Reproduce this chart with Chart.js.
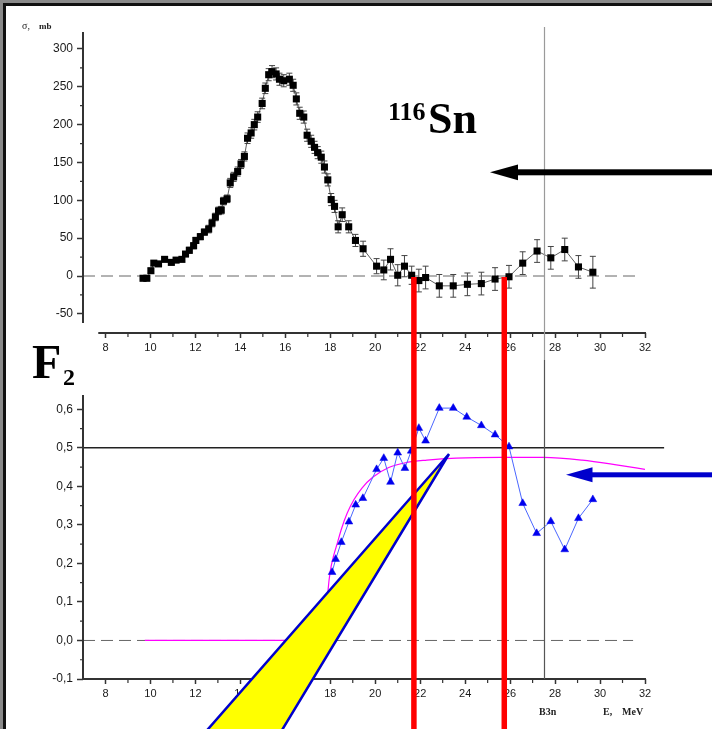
<!DOCTYPE html>
<html>
<head>
<meta charset="utf-8">
<script src="https://cdn.jsdelivr.net/npm/chart.js@4.4.1/dist/chart.umd.min.js"></script>
<style>
  html, body { margin: 0; padding: 0; background: #fff; }
  #page { position: relative; width: 712px; height: 729px; overflow: hidden; background: #fff; }
  #page canvas { position: absolute; left: 0; }
  .edge { position: absolute; }
</style>
</head>
<body>
<div id="page">
  <div class="edge" style="left:0;top:0;width:712px;height:3px;background:#8a8a8a"></div>
  <div class="edge" style="left:0;top:0;width:3px;height:729px;background:#8a8a8a"></div>
  <div class="edge" style="left:3px;top:3px;width:709px;height:3px;background:#111"></div>
  <div class="edge" style="left:3px;top:3px;width:3px;height:726px;background:#111"></div>
  <canvas id="sigma" width="712" height="360" style="top:0"></canvas>
  <canvas id="f2" width="712" height="369" style="top:360px"></canvas>
  <canvas id="marks" width="712" height="729" style="top:0"></canvas>
</div>
<script>
// (g,n) cross section for 116Sn, mb
const energy = [9.67, 9.84, 10.02, 10.15, 10.36, 10.63, 10.93, 11.14, 11.40, 11.56,
  11.73, 11.92, 12.02, 12.22, 12.40, 12.59, 12.74, 12.89, 13.03, 13.15,
  13.25, 13.41, 13.55, 13.70, 13.88, 14.03, 14.18, 14.32, 14.48, 14.62,
  14.77, 14.97, 15.11, 15.26, 15.41, 15.59, 15.74, 15.93, 16.18, 16.35,
  16.49, 16.64, 16.82, 16.97, 17.15, 17.30, 17.44, 17.60, 17.74, 17.89,
  18.04, 18.19, 18.35, 18.53, 18.82, 19.12, 19.46, 20.06, 20.38, 20.68,
  21.00, 21.30, 21.62, 21.94, 22.24, 22.85, 23.47, 24.10, 24.72, 25.33,
  25.95, 26.56, 27.20, 27.81, 28.43, 29.04, 29.68];
const sigma = [-3, -3, 7, 17, 16, 22, 18, 21, 22, 29,
  34, 40, 47, 52, 58, 62, 70, 78, 86, 87,
  99, 102, 123, 131, 138, 148, 158, 182, 189, 200,
  210, 228, 248, 266, 270, 267, 260, 258, 260, 252,
  234, 215, 210, 186, 178, 170, 163, 157, 144, 127,
  101, 92, 65, 81, 65, 47, 36, 13, 8, 22,
  1, 13, 1, -6, -2, -13, -13, -11, -10, -4,
  -1, 17, 33, 24, 35, 12, 5];
const sigmaErr = [3, 3, 3, 3, 3, 3, 3, 3, 3, 3,
  4, 4, 4, 4, 4, 5, 5, 5, 5, 5,
  5, 5, 6, 6, 6, 6, 6, 7, 7, 7,
  7, 7, 7, 8, 8, 8, 8, 8, 8, 8,
  8, 8, 8, 8, 8, 8, 8, 8, 8, 8,
  8, 8, 8, 9, 8, 8, 10, 10, 13, 14,
  14, 14, 12, 15, 15, 15, 15, 15, 15, 15,
  15, 15, 15, 15, 15, 15, 21];

// F2 ratio
const f2Energy = [18.08, 18.24, 18.49, 18.83, 19.13, 19.45, 20.06, 20.38, 20.68, 21.00,
  21.32, 21.60, 21.94, 22.24, 22.85, 23.47, 24.07, 24.72, 25.33, 25.95,
  26.56, 27.18, 27.81, 28.43, 29.04, 29.68];
const f2 = [0.177, 0.211, 0.255, 0.308, 0.352, 0.369, 0.444, 0.473, 0.411, 0.487,
  0.447, 0.492, 0.551, 0.518, 0.603, 0.603, 0.580, 0.558, 0.534, 0.503,
  0.356, 0.278, 0.309, 0.236, 0.317, 0.366];

// smooth curve through F2
const fitEnergy = [9.75, 17.75, 17.82, 17.9, 18.0, 18.15, 18.3, 18.5, 18.75, 19.05,
  19.4, 19.9, 20.6, 21.4, 22.3, 23.6, 25.6, 27.5, 29.2, 30.8, 32.0];
const fitF2 = [0, 0, 0.06, 0.13, 0.18, 0.22, 0.25, 0.29, 0.33, 0.365,
  0.395, 0.424, 0.449, 0.462, 0.468, 0.473, 0.475, 0.475, 0.468, 0.455, 0.444];

// axis ticks
const energyTicks = [8, 10, 12, 14, 16, 18, 20, 22, 24, 26, 28, 30, 32];
const energyMinor = [9, 11, 13, 15, 17, 19, 21, 23, 25, 27, 29, 31];
const sigmaTicks = [-50, 0, 50, 100, 150, 200, 250, 300];
const sigmaMinor = [-25, 25, 75, 125, 175, 225, 275];
const f2Ticks = [-0.1, 0, 0.1, 0.2, 0.3, 0.4, 0.5, 0.6];
const f2Minor = [-0.05, 0.05, 0.15, 0.25, 0.35, 0.45, 0.55];

// reference lines and thresholds
const sigmaZeroE = [7.0, 31.63];
const f2ZeroE = [7.0, 31.47];
const f2HalfE = [7.0, 32.85];
const f2Half = 0.5;
const b3n = 27.5;
const markE = [21.72, 25.74];

const font = 'Liberation Sans, Arial, sans-serif';

// Origin-style axis lines, minor ticks and error bars
function originAxes(cfg) {
  return {
    id: 'originAxes',
    beforeDatasetsDraw(chart) {
      if (!cfg.err) return;
      const { ctx, scales: { x, y } } = chart;
      ctx.save();
      ctx.strokeStyle = '#444';
      ctx.lineWidth = 1;
      ctx.beginPath();
      cfg.err.forEach((e, i) => {
        const px = x.getPixelForValue(cfg.ex[i]);
        const lo = y.getPixelForValue(cfg.ey[i] - e);
        const hi = y.getPixelForValue(cfg.ey[i] + e);
        ctx.moveTo(px, lo); ctx.lineTo(px, hi);
        ctx.moveTo(px - 3, lo); ctx.lineTo(px + 3, lo);
        ctx.moveTo(px - 3, hi); ctx.lineTo(px + 3, hi);
      });
      ctx.stroke();
      ctx.restore();
    },
    afterDraw(chart) {
      const { ctx, chartArea: a, scales: { x, y } } = chart;
      ctx.save();
      ctx.strokeStyle = '#333';
      ctx.lineWidth = 2;
      ctx.beginPath();
      ctx.moveTo(a.left, a.top);
      ctx.lineTo(a.left, y.getPixelForValue(cfg.yEnd));
      ctx.moveTo(x.getPixelForValue(cfg.xStart), a.bottom);
      ctx.lineTo(a.right + 1, a.bottom);
      ctx.stroke();
      ctx.lineWidth = 1.2;
      ctx.beginPath();
      cfg.yMinor.forEach(v => {
        const py = y.getPixelForValue(v);
        ctx.moveTo(a.left - 3, py); ctx.lineTo(a.left, py);
      });
      cfg.xMinor.forEach(v => {
        const px = x.getPixelForValue(v);
        ctx.moveTo(px, a.bottom); ctx.lineTo(px, a.bottom + 4);
      });
      ctx.stroke();
      ctx.restore();
    }
  };
}

function axes(xMin, xMax, yMin, yMax, xTicks, yTicks, xHeight, yFmt) {
  return {
    x: {
      type: 'linear', min: xMin, max: xMax,
      afterBuildTicks: s => { s.ticks = xTicks.map(v => ({ value: v })); },
      afterFit: s => { s.height = xHeight; },
      border: { display: false },
      grid: { drawOnChartArea: false, tickLength: 5, tickColor: '#333', tickWidth: 1.5 },
      ticks: { autoSkip: false, maxRotation: 0, padding: 3, color: '#1a1a1a', font: { family: font, size: 11 } }
    },
    y: {
      type: 'linear', min: yMin, max: yMax,
      afterBuildTicks: s => { s.ticks = yTicks.map(v => ({ value: v })); },
      afterFit: s => { s.width = 83; },
      border: { display: false },
      grid: { drawOnChartArea: false, tickLength: 6, tickColor: '#333', tickWidth: 1.5 },
      ticks: { autoSkip: false, padding: 4, color: '#1a1a1a', font: { family: font, size: 12 }, callback: yFmt }
    }
  };
}

const common = {
  responsive: false,
  animation: false,
  events: [],
  plugins: { legend: { display: false }, tooltip: { enabled: false } }
};

const sigmaChart = new Chart(document.getElementById('sigma'), {
  type: 'scatter',
  data: {
    datasets: [
      {
        data: energy.map((e, i) => ({ x: e, y: sigma[i] })),
        showLine: true, borderColor: '#333', borderWidth: 0.8,
        pointStyle: 'rect', pointRadius: 5,
        pointBackgroundColor: '#000', pointBorderColor: '#000', pointBorderWidth: 0
      },
      {
        data: sigmaZeroE.map(e => ({ x: e, y: 0 })),
        showLine: true, borderColor: '#666', borderWidth: 1, borderDash: [12, 6], pointRadius: 0
      }
    ]
  },
  options: {
    ...common,
    layout: { padding: { left: 0, top: 32, right: 67, bottom: 0 } },
    scales: axes(7.0, 32, -75.3, 322.4, energyTicks, sigmaTicks, 27, v => String(v))
  },
  plugins: [originAxes({ yEnd: -62, xStart: 7.68, yMinor: sigmaMinor, xMinor: energyMinor,
    err: sigmaErr, ex: energy, ey: sigma })]
});

const f2Chart = new Chart(document.getElementById('f2'), {
  type: 'scatter',
  data: {
    datasets: [
      {
        data: f2Energy.map((e, i) => ({ x: e, y: f2[i] })),
        showLine: true, borderColor: '#4a66ff', borderWidth: 1,
        pointStyle: 'triangle', pointRadius: 4.5,
        pointBackgroundColor: '#0000ee', pointBorderColor: '#0000ee', pointBorderWidth: 0.5
      },
      {
        data: fitEnergy.map((e, i) => ({ x: e, y: fitF2[i] })),
        showLine: true, borderColor: '#ff00ff', borderWidth: 1.2,
        cubicInterpolationMode: 'monotone', pointRadius: 0
      },
      {
        data: f2HalfE.map(e => ({ x: e, y: f2Half })),
        showLine: true, borderColor: '#222', borderWidth: 1.4, pointRadius: 0, clip: false
      },
      {
        data: f2ZeroE.map(e => ({ x: e, y: 0 })),
        showLine: true, borderColor: '#666', borderWidth: 1, borderDash: [12, 6], pointRadius: 0
      }
    ]
  },
  options: {
    ...common,
    layout: { padding: { left: 0, top: 35, right: 67, bottom: 0 } },
    scales: axes(7.0, 32, -0.1, 0.637, energyTicks, f2Ticks, 50,
      v => v.toFixed(1).replace('.', ','))
  },
  plugins: [originAxes({ yEnd: -0.1, xStart: 7.0, yMinor: f2Minor, xMinor: energyMinor })]
});

// annotations drawn over both panels
function drawMarks() {
  const c = document.getElementById('marks').getContext('2d');
  const xs = f2Chart.scales.x;
  const f2Top = 360;
  const sigTop = sigmaChart.chartArea.top;
  const zeroY = sigmaChart.scales.y.getPixelForValue(0);

  // B3n threshold
  const gx = Math.round(xs.getPixelForValue(b3n)) + 0.5;
  c.lineWidth = 1.2;
  c.strokeStyle = '#9a9a9a';
  c.beginPath(); c.moveTo(gx, sigTop - 5); c.lineTo(gx, f2Top); c.stroke();
  c.strokeStyle = '#555';
  c.beginPath(); c.moveTo(gx, f2Top); c.lineTo(gx, f2Top + f2Chart.chartArea.bottom); c.stroke();

  // black arrow
  c.fillStyle = '#000';
  c.fillRect(515, 169.3, 197, 6);
  c.beginPath(); c.moveTo(490, 172.3); c.lineTo(518, 164.5); c.lineTo(518, 180.3); c.closePath(); c.fill();

  // yellow wedge
  c.beginPath();
  c.moveTo(449, 454); c.lineTo(276, 740); c.lineTo(198.5, 740); c.closePath();
  c.fillStyle = '#ffff00'; c.fill();
  c.lineJoin = 'miter';
  c.lineWidth = 2.5; c.strokeStyle = '#0000cc'; c.stroke();

  // red markers
  c.strokeStyle = '#ff0000';
  c.lineWidth = 5.5;
  markE.forEach(e => {
    const rx = xs.getPixelForValue(e);
    c.beginPath(); c.moveTo(rx, zeroY + 1); c.lineTo(rx, 729); c.stroke();
  });

  // blue arrow
  c.fillStyle = '#0000cc';
  c.fillRect(590, 472.3, 122, 5);
  c.beginPath(); c.moveTo(566, 474.8); c.lineTo(592.5, 467.3); c.lineTo(592.5, 482.3); c.closePath(); c.fill();

  // labels
  c.fillStyle = '#000';
  c.textBaseline = 'alphabetic';
  c.font = 'bold 26px "Liberation Serif", serif';
  c.fillText('116', 388, 120);
  c.font = 'bold 44px "Liberation Serif", serif';
  c.fillText('Sn', 428, 133);
  c.font = 'bold 48px "Liberation Serif", serif';
  c.fillText('F', 32, 378);
  c.font = 'bold 24px "Liberation Serif", serif';
  c.fillText('2', 63, 385);

  c.fillStyle = '#222';
  c.font = '10px "Liberation Serif", serif';
  c.fillText('σ,', 22, 29);
  c.font = 'bold 9px "Liberation Serif", serif';
  c.fillText('mb', 39, 29);
  c.font = 'bold 10px "Liberation Serif", serif';
  c.fillText('B3n', 539, 715);
  c.fillText('E,', 603, 715);
  c.fillText('MeV', 622, 715);
}
drawMarks();
</script>
</body>
</html>
